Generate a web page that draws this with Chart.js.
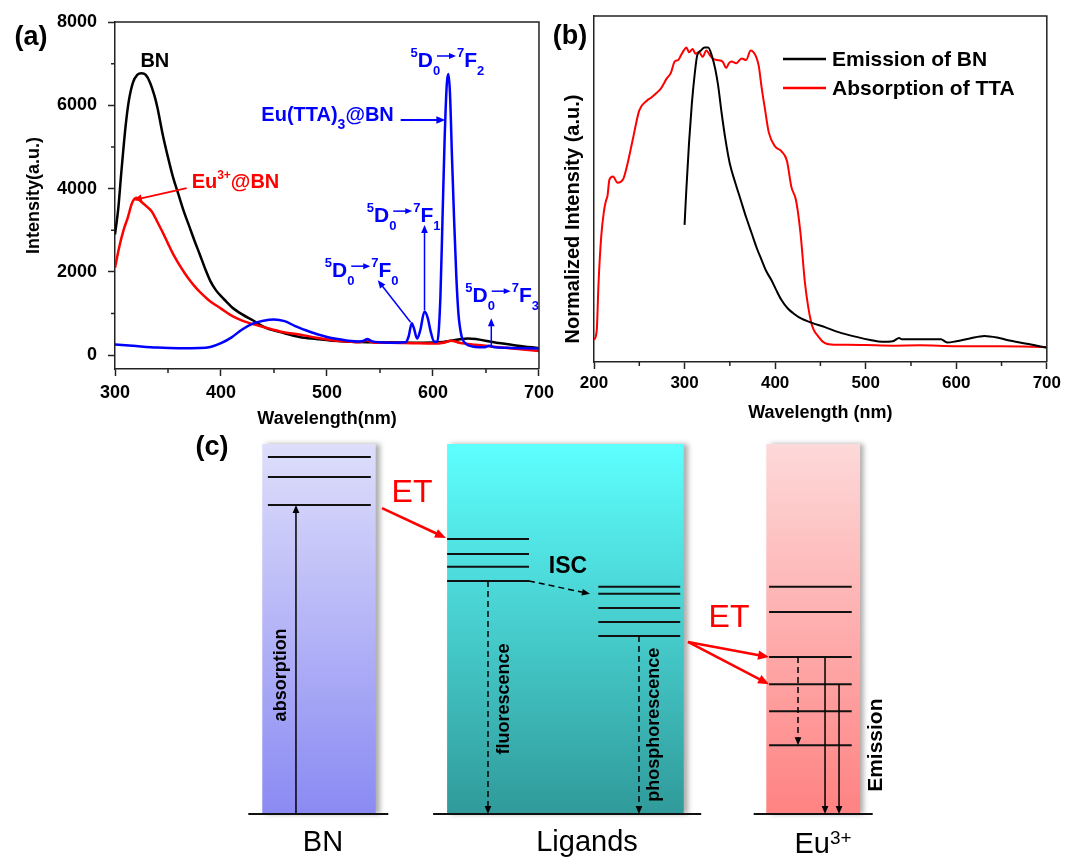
<!DOCTYPE html>
<html>
<head>
<meta charset="utf-8">
<script src="https://cdn.jsdelivr.net/npm/chart.js@4.4.0/dist/chart.umd.min.js"></script>
<style>
html, body { margin: 0; padding: 0; background: #fff; }
#wrap { position: relative; width: 1065px; height: 858px; overflow: hidden; }
canvas { position: absolute; }
#ca { left: 0; top: 0; }
#cb { left: 540px; top: 0; }
#cc { left: 0; top: 420px; }
</style>
</head>
<body>
<div id="wrap">
  <canvas id="cc" width="1065" height="438"></canvas>
  <canvas id="ca" width="560" height="432"></canvas>
  <canvas id="cb" width="525" height="432"></canvas>
</div>
<script>
// ---- panel (a): PL spectra ----
const bnWl  = [300,303,306,310,313,317,321,325,329,333,337,340,345,350,355,360,365,370,375,380,385,390,395,400,405,410,420,430,443,460,474,490,505,530,560,590,610,633,660,680,700];
const bnInt = [2900,3500,4400,5500,6100,6550,6730,6770,6730,6550,6250,5950,5300,4750,4250,3850,3450,3100,2750,2420,2080,1780,1570,1420,1290,1160,980,840,650,530,440,390,350,320,310,300,320,400,300,230,170];

const euWl  = [300,304,308,312,316,320,325,330,335,340,345,350,355,360,365,370,375,380,385,390,400,410,420,430,440,458,474,490,505,520,530,537,545,560,580,600,610,617,625,640,660,680,700];
const euInt = [2100,2600,3000,3300,3650,3780,3680,3570,3440,3200,2950,2680,2420,2200,2000,1820,1660,1520,1400,1290,1120,950,830,750,680,560,500,420,360,330,310,360,300,300,290,280,300,350,300,250,200,150,100];

const ttaWl  = [300,320,340,360,380,390,400,410,420,430,440,450,460,470,480,490,500,510,520,530,535,538,542,550,565,574,577,580,582,585,588,592,595,598,601,604,607,609,611,613,614.5,616,618,620,622,624,627,630,640,648,653,657,670,700];
const ttaInt = [260,220,185,170,175,200,290,430,620,760,830,860,820,700,600,510,440,390,350,330,350,390,340,310,300,310,450,770,650,400,600,1050,900,550,330,320,1400,3300,5200,6500,6750,6300,4700,3200,1900,1000,450,300,200,190,230,200,180,160];

const aXTicks = [300, 400, 500, 600, 700];
const aYTicks = [0, 2000, 4000, 6000, 8000];

// ---- panel (b): normalized spectra ----
const emWl  = [300,302,305,308,311,314,318,322,326,330,334,337,341,345,350,356,362,368,374,380,385,390,396,401,407,414,420,426,440,455,470,491,505,518,530,537,540,560,583,590,600,615,631,645,656,680,700];
const emVal = [0.436,0.55,0.70,0.82,0.91,0.975,0.99,1.0,1.0,0.975,0.93,0.88,0.79,0.71,0.63,0.57,0.515,0.46,0.41,0.36,0.325,0.29,0.26,0.23,0.197,0.17,0.155,0.143,0.125,0.111,0.095,0.079,0.07,0.064,0.066,0.076,0.072,0.072,0.072,0.062,0.066,0.075,0.083,0.078,0.07,0.057,0.045];

const absWl  = [200,203,205,208,211,213,215,217,221,226,232,237,243,250,258,263,269,274,280,285,289,293,296,299,302,305,309,312,316,320,324,328,331,336,342,346,349,352,357,363,368,373,376,379,382,385,389,393,400,407,413,418,423,428,433,440,448,455,465,480,500,530,560,600,650,700];
const absVal = [0.07,0.10,0.25,0.40,0.48,0.51,0.53,0.58,0.59,0.57,0.58,0.63,0.71,0.80,0.83,0.84,0.855,0.87,0.90,0.92,0.955,0.96,0.975,0.99,1.0,0.985,0.995,0.98,0.985,0.97,0.99,0.975,0.965,0.96,0.955,0.935,0.95,0.955,0.95,0.965,0.96,0.99,0.985,0.97,0.94,0.875,0.80,0.73,0.685,0.67,0.64,0.556,0.515,0.41,0.25,0.124,0.08,0.06,0.055,0.055,0.054,0.052,0.053,0.05,0.05,0.048];

const bXTicks = [200, 300, 400, 500, 600, 700];

// ---- panel (c): energy level scheme (arbitrary energy units, ground = 0) ----
const bnLevels  = [96.5, 91.1, 83.5];
const singlets  = [74.3, 70.3, 66.8, 63.0];
const triplets  = [61.4, 59.5, 55.7, 51.9, 48.1];
const euLevels  = [61.4, 54.6, 42.4, 35.1, 27.8, 18.6];
const columnNames = ['BN', 'Ligands', 'Eu'];

const FONT = '"Liberation Sans", Arial, Helvetica, sans-serif';
Chart.defaults.font.family = FONT;
Chart.defaults.color = '#000';

const xy = (xs, ys) => xs.map((x, i) => ({ x: x, y: ys[i] }));

function arrow(ctx, x1, y1, x2, y2, color, w, head, dash) {
  const a = Math.atan2(y2 - y1, x2 - x1);
  const c = Math.cos(a), s = Math.sin(a);
  ctx.save();
  ctx.strokeStyle = color; ctx.fillStyle = color; ctx.lineWidth = w;
  if (dash) ctx.setLineDash(dash);
  ctx.beginPath();
  ctx.moveTo(x1, y1);
  ctx.lineTo(x2 - c * head * 0.8, y2 - s * head * 0.8);
  ctx.stroke();
  ctx.setLineDash([]);
  const hw = head * 0.42;
  ctx.beginPath();
  ctx.moveTo(x2, y2);
  ctx.lineTo(x2 - head * c + hw * s, y2 - head * s - hw * c);
  ctx.lineTo(x2 - head * c - hw * s, y2 - head * s + hw * c);
  ctx.closePath();
  ctx.fill();
  ctx.restore();
}

function vtext(ctx, txt, x, y, font) {
  ctx.save();
  ctx.translate(x, y);
  ctx.rotate(-Math.PI / 2);
  ctx.font = font;
  ctx.textAlign = 'center';
  ctx.textBaseline = 'middle';
  ctx.fillText(txt, 0, 0);
  ctx.restore();
}

// pieces: [text, 'n'|'sup'|'sub']
function richText(ctx, pieces, x, y, big, small, align) {
  const fontOf = k => (k === 'n' ? big : small);
  let total = 0;
  pieces.forEach(p => { ctx.font = fontOf(p[1]); total += ctx.measureText(p[0]).width; });
  let cx = align === 'right' ? x - total : align === 'center' ? x - total / 2 : x;
  ctx.textAlign = 'left';
  ctx.textBaseline = 'alphabetic';
  pieces.forEach(p => {
    ctx.font = fontOf(p[1]);
    const dy = p[1] === 'sup' ? -9 : p[1] === 'sub' ? 8 : 0;
    ctx.fillText(p[0], cx, y + dy);
    cx += ctx.measureText(p[0]).width;
  });
}

function transition(ctx, x, y, lo, color) {
  const big = 'bold 21px ' + FONT, small = 'bold 13px ' + FONT;
  ctx.save();
  ctx.fillStyle = color;
  ctx.textAlign = 'left'; ctx.textBaseline = 'alphabetic';
  ctx.font = small; ctx.fillText('5', x, y - 10); x += ctx.measureText('5').width;
  ctx.font = big; ctx.fillText('D', x, y); x += ctx.measureText('D').width;
  ctx.font = small; ctx.fillText('0', x, y + 8);
  arrow(ctx, x + 4, y - 11, x + 23, y - 11, color, 1.5, 7);
  x += 24;
  ctx.fillStyle = color;
  ctx.font = small; ctx.fillText('7', x, y - 10); x += ctx.measureText('7').width;
  ctx.font = big; ctx.fillText('F', x, y); x += ctx.measureText('F').width;
  ctx.font = small; ctx.fillText(lo, x, y + 8);
  ctx.restore();
}

const frame = {
  id: 'frame',
  afterDraw(chart, args, opts) {
    const { ctx, chartArea: a, scales: { x, y } } = chart;
    ctx.save();
    ctx.strokeStyle = '#222';
    ctx.lineWidth = 1.5;
    ctx.beginPath();
    ctx.moveTo(a.left, a.top); ctx.lineTo(a.right, a.top); ctx.lineTo(a.right, a.bottom);
    (opts.xMinor || []).forEach(v => {
      const px = x.getPixelForValue(v);
      ctx.moveTo(px, a.bottom); ctx.lineTo(px, a.bottom + 4);
    });
    (opts.yMinor || []).forEach(v => {
      const py = y.getPixelForValue(v);
      ctx.moveTo(a.left, py); ctx.lineTo(a.left - 4, py);
    });
    ctx.stroke();
    ctx.fillStyle = '#000';
    ctx.font = 'bold 27px ' + FONT;
    ctx.textAlign = 'center'; ctx.textBaseline = 'middle';
    ctx.fillText(opts.panel, opts.panelX, opts.panelY);
    ctx.restore();
  }
};

const annotA = {
  id: 'annotA',
  afterDatasetsDraw(chart) {
    const { ctx, scales: { x, y } } = chart;
    const px = v => x.getPixelForValue(v), py = v => y.getPixelForValue(v);
    const big = 'bold 20px ' + FONT, small = 'bold 12px ' + FONT;
    ctx.save();
    ctx.fillStyle = '#000';
    ctx.font = big; ctx.textAlign = 'center'; ctx.textBaseline = 'middle';
    ctx.fillText('BN', px(337.6), py(7041));

    ctx.fillStyle = '#f00';
    richText(ctx, [['Eu', 'n'], ['3+', 'sup'], ['@BN', 'n']], px(372.3), py(4013), big, small, 'left');
    arrow(ctx, px(367.6), py(4013), px(316.9), py(3725), '#f00', 1.8, 9);

    ctx.fillStyle = '#00f';
    richText(ctx, [['Eu(TTA)', 'n'], ['3', 'sub'], ['@BN', 'n']], px(563), py(5623), big, 'bold 14px ' + FONT, 'right');
    arrow(ctx, px(569.5), py(5647), px(611.7), py(5647), '#00f', 1.8, 9);

    transition(ctx, px(578.9), py(6920), '2', '#00f');
    transition(ctx, px(537.6), py(3196), '1', '#00f');
    transition(ctx, px(498), py(1874), '0', '#00f');
    transition(ctx, px(630.5), py(1274), '3', '#00f');
    arrow(ctx, px(592), py(1081), px(592), py(3124), '#00f', 1.5, 8);
    arrow(ctx, px(578.9), py(793), px(547.9), py(1802), '#00f', 1.5, 8);
    arrow(ctx, px(655), py(240), px(655), py(889), '#00f', 1.5, 8);
    ctx.restore();
  }
};

const axisStyle = {
  grid: { drawOnChartArea: false, tickLength: 7, tickWidth: 1.5, tickColor: '#222' },
  border: { color: '#222', width: 1.5 }
};

new Chart(document.getElementById('ca'), {
  type: 'line',
  data: {
    datasets: [
      { label: 'Eu(TTA)3@BN', data: xy(ttaWl, ttaInt), borderColor: '#0000ff' },
      { label: 'Eu3+@BN', data: xy(euWl, euInt), borderColor: '#ff0000' },
      { label: 'BN', data: xy(bnWl, bnInt), borderColor: '#000000' }
    ]
  },
  options: {
    responsive: false,
    animation: false,
    layout: { padding: { left: 0, top: 22, right: 19, bottom: 0 } },
    elements: {
      point: { radius: 0 },
      line: { borderWidth: 2.5, cubicInterpolationMode: 'monotone', fill: false }
    },
    scales: {
      x: {
        type: 'linear', min: 300, max: 700,
        afterBuildTicks: s => { s.ticks = aXTicks.map(v => ({ value: v })); },
        afterFit: s => { s.height = 63; },
        ticks: { font: { size: 18, weight: 'bold' }, padding: 6, color: '#000', callback: v => String(v) },
        title: { display: true, text: 'Wavelength(nm)', font: { size: 18, weight: 'bold' }, padding: { top: 0, bottom: 2 } },
        ...axisStyle
      },
      y: {
        type: 'linear', min: -330, max: 8000,
        afterBuildTicks: s => { s.ticks = aYTicks.map(v => ({ value: v })); },
        afterFit: s => { s.width = 115; },
        ticks: { font: { size: 18, weight: 'bold' }, padding: 11, color: '#000', callback: v => String(v) },
        title: { display: true, text: 'Intensity(a.u.)', font: { size: 18, weight: 'bold' }, padding: { top: 23, bottom: 0 } },
        ...axisStyle
      }
    },
    plugins: {
      legend: { display: false },
      tooltip: { enabled: false },
      frame: { xMinor: [350, 450, 550, 650], yMinor: [1000, 3000, 5000, 7000], panel: '(a)', panelX: 31, panelY: 38 }
    }
  },
  plugins: [frame, annotA]
});

const legendB = {
  id: 'legendB',
  afterDraw(chart) {
    const { ctx } = chart;
    ctx.save();
    chart.data.datasets.forEach((ds, i) => {
      const y = 59 + i * 29;
      ctx.strokeStyle = ds.borderColor; ctx.lineWidth = 2.5;
      ctx.beginPath(); ctx.moveTo(243, y); ctx.lineTo(286, y); ctx.stroke();
      ctx.fillStyle = '#000';
      ctx.font = 'bold 21px ' + FONT;
      ctx.textAlign = 'left'; ctx.textBaseline = 'middle';
      ctx.fillText(ds.label, 292, y + 1);
    });
    vtext(ctx, 'Normalized Intensity (a.u.)', 33, 219, 'bold 20px ' + FONT);
    ctx.restore();
  }
};

new Chart(document.getElementById('cb'), {
  type: 'line',
  data: {
    datasets: [
      { label: 'Emission of BN', data: xy(emWl, emVal), borderColor: '#000000' },
      { label: 'Absorption of TTA', data: xy(absWl, absVal), borderColor: '#ff0000' }
    ]
  },
  options: {
    responsive: false,
    animation: false,
    layout: { padding: { left: 0, top: 16, right: 15, bottom: 0 } },
    elements: {
      point: { radius: 0 },
      line: { borderWidth: 2, cubicInterpolationMode: 'monotone', fill: false }
    },
    scales: {
      x: {
        type: 'linear', min: 200, max: 700,
        afterBuildTicks: s => { s.ticks = bXTicks.map(v => ({ value: v })); },
        afterFit: s => { s.height = 70; },
        ticks: { font: { size: 17, weight: 'bold' }, padding: 4, color: '#000', callback: v => String(v) },
        title: { display: true, text: 'Wavelength (nm)', font: { size: 18, weight: 'bold' }, padding: { top: 0, bottom: 8 } },
        ...axisStyle
      },
      y: {
        type: 'linear', min: 0, max: 1.1,
        afterFit: s => { s.width = 54; },
        ticks: { display: false },
        grid: { display: false },
        border: { color: '#222', width: 1.5 }
      }
    },
    plugins: {
      legend: { display: false },
      tooltip: { enabled: false },
      frame: { xMinor: [250, 350, 450, 550, 650], yMinor: [], panel: '(b)', panelX: 30, panelY: 37 }
    }
  },
  plugins: [frame, legendB]
});

// ---- panel (c) ----
const columns = [
  { box: [8.9, 25.1], ground: [6.9, 26.9], top: '#dedefb', bottom: '#8a8af3' },
  { box: [35.3, 69.1], ground: [33.3, 71.6], top: '#5effff', bottom: '#309a9a' },
  { box: [80.9, 94.3], ground: [79.1, 96.1], top: '#fdd9d9', bottom: '#ff8282' }
];
const levelGroups = [
  { span: [9.7, 24.4], e: bnLevels },
  { span: [35.3, 47.0], e: singlets },
  { span: [56.9, 68.6], e: triplets },
  { span: [81.3, 93.1], e: euLevels }
];
const levelSets = [];
levelGroups.forEach(g => g.e.forEach(e => levelSets.push({
  data: [{ x: g.span[0], y: e }, { x: g.span[1], y: e }],
  borderColor: '#111', borderWidth: 2, pointRadius: 0, clip: false
})));
columns.forEach(c => levelSets.push({
  data: [{ x: c.ground[0], y: 0 }, { x: c.ground[1], y: 0 }],
  borderColor: '#111', borderWidth: 2, pointRadius: 0, clip: false
}));

// [x1, e1, x2, e2, color, dashed]
const schemeArrows = [
  [13.71, 0, 13.71, bnLevels[2], '#000', false],
  [41.14, singlets[3], 41.14, 0, '#000', true],
  [47.0, singlets[3], 55.71, 59.5, '#000', true],
  [62.71, triplets[4], 62.71, 0, '#000', true],
  [85.43, euLevels[2], 85.43, euLevels[5], '#000', true],
  [89.29, euLevels[2], 89.29, 0, '#000', false],
  [91.29, euLevels[3], 91.29, 0, '#000', false],
  [26.0, 82.7, 35.14, 74.6, '#f00', false],
  [69.71, 46.5, 81.29, euLevels[2], '#f00', false],
  [69.71, 46.5, 81.29, euLevels[3], '#f00', false]
];

const boxes = {
  id: 'boxes',
  beforeDatasetsDraw(chart) {
    const { ctx, scales: { x, y } } = chart;
    columns.forEach(c => {
      const l = x.getPixelForValue(c.box[0]), r = x.getPixelForValue(c.box[1]);
      const t = y.getPixelForValue(100), b = y.getPixelForValue(0);
      const g = ctx.createLinearGradient(0, t, 0, b);
      g.addColorStop(0, c.top); g.addColorStop(1, c.bottom);
      ctx.save();
      ctx.shadowColor = 'rgba(0,0,0,0.32)';
      ctx.shadowBlur = 5; ctx.shadowOffsetX = 4; ctx.shadowOffsetY = 0;
      ctx.fillStyle = g;
      ctx.fillRect(l, t, r - l, b - t);
      ctx.restore();
    });
  },
  afterDatasetsDraw(chart) {
    const { ctx, scales: { x, y } } = chart;
    const px = v => x.getPixelForValue(v), py = v => y.getPixelForValue(v);
    schemeArrows.forEach(a => {
      const red = a[4] === '#f00';
      arrow(ctx, px(a[0]), py(a[1]), px(a[2]), py(a[3]), a[4], red ? 2.5 : 1.5, red ? 11 : 8, a[5] ? [6, 4] : null);
    });
    ctx.save();
    ctx.fillStyle = '#f00';
    ctx.font = '32px ' + FONT; ctx.textAlign = 'center'; ctx.textBaseline = 'middle';
    ctx.fillText('ET', px(30.29), py(86.8));
    ctx.fillText('ET', px(75.57), py(53.0));
    ctx.fillStyle = '#000';
    ctx.font = 'bold 23px ' + FONT;
    ctx.fillText('ISC', px(52.57), py(66.8));
    vtext(ctx, 'absorption', px(11.57), py(37.6), 'bold 18px ' + FONT);
    vtext(ctx, 'fluorescence', px(43.43), py(31.1), 'bold 18px ' + FONT);
    vtext(ctx, 'phosphorescence', px(64.86), py(24.1), 'bold 18px ' + FONT);
    vtext(ctx, 'Emission', px(96.57), py(18.6), 'bold 21px ' + FONT);
    ctx.font = '29px ' + FONT; ctx.textAlign = 'center'; ctx.textBaseline = 'middle';
    ctx.fillText(columnNames[0], px(17.57), py(-7.8));
    ctx.fillText(columnNames[1], px(55.29), py(-7.8));
    richText(ctx, [[columnNames[2], 'n'], ['3+', 'sup']], px(89), py(-7.8) + 10, '29px ' + FONT, '19px ' + FONT, 'center');
    ctx.font = 'bold 27px ' + FONT; ctx.textAlign = 'center'; ctx.textBaseline = 'middle';
    ctx.fillText('(c)', 212, 28);
    ctx.restore();
  }
};

new Chart(document.getElementById('cc'), {
  type: 'line',
  data: { datasets: levelSets },
  options: {
    responsive: false,
    animation: false,
    layout: { padding: { left: 200, right: 165, top: 24, bottom: 44 } },
    scales: {
      x: { type: 'linear', min: 0, max: 100, display: false },
      y: { type: 'linear', min: 0, max: 100, display: false }
    },
    plugins: { legend: { display: false }, tooltip: { enabled: false } }
  },
  plugins: [boxes]
});
</script>
</body>
</html>
